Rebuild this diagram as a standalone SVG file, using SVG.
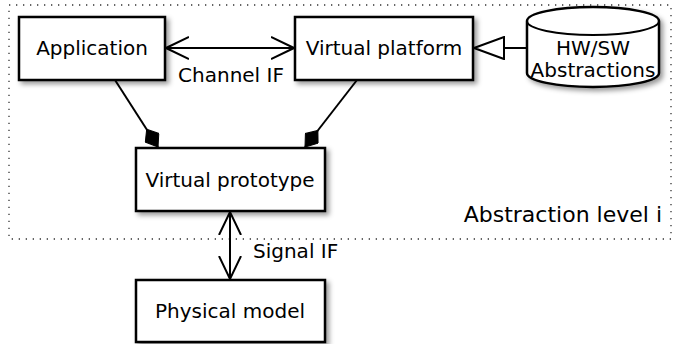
<svg xmlns="http://www.w3.org/2000/svg" width="677" height="344" viewBox="0 0 677 344">
<style>
  .box { fill: #fff; stroke: #000; stroke-width: 2.5; }
  .lbl { font-family: "DejaVu Sans", sans-serif; font-size: 20px; fill: #000; }
  .c { text-anchor: middle; }
  .ln { stroke: #000; stroke-width: 2; fill: none; }
</style>
<defs>
  <filter id="sh" x="-10%" y="-10%" width="130%" height="140%">
    <feDropShadow dx="3" dy="3" stdDeviation="2.5" flood-color="#000" flood-opacity="0.4"/>
  </filter>
  <marker id="open" viewBox="0 0 24 24" refX="23" refY="12" markerWidth="24" markerHeight="24" markerUnits="userSpaceOnUse" orient="auto-start-reverse">
    <path d="M0,1 L23,12 L0,23" fill="none" stroke="#000" stroke-width="2"/>
  </marker>
  <marker id="dia" viewBox="0 0 22 17" refX="21.5" refY="8.5" markerWidth="22" markerHeight="17" markerUnits="userSpaceOnUse" orient="auto">
    <path d="M0.5,8.5 L10.5,0.5 L21.5,8.5 L10.5,16.5 Z" fill="#000" stroke="#000" stroke-width="1"/>
  </marker>
  <marker id="tri" viewBox="0 0 32 24" refX="31" refY="12" markerWidth="32" markerHeight="24" markerUnits="userSpaceOnUse" orient="auto">
    <path d="M1,1 L31,12 L1,23 Z" fill="#fff" stroke="#000" stroke-width="2"/>
  </marker>
</defs>

<rect x="9" y="5" width="662" height="234" fill="none" stroke="#333" stroke-width="1.3" stroke-dasharray="1.3 5.7"/>
<text class="lbl" x="662" y="222" text-anchor="end" style="font-size:22px">Abstraction level i</text>

<g id="connectors">
  <line class="ln" x1="166" y1="48" x2="294" y2="48" marker-start="url(#open)" marker-end="url(#open)"/>
  <text class="lbl c" x="231" y="82">Channel IF</text>
  <line class="ln" x1="527" y1="48" x2="474" y2="48" marker-end="url(#tri)"/>
  <line class="ln" x1="115" y1="80" x2="158" y2="147" marker-end="url(#dia)"/>
  <line class="ln" x1="357" y1="80" x2="305" y2="147" marker-end="url(#dia)"/>
  <line class="ln" x1="230" y1="212" x2="230" y2="279" marker-start="url(#open)" marker-end="url(#open)"/>
  <text class="lbl" x="253" y="258">Signal IF</text>
</g>

<g id="application">
  <rect class="box" filter="url(#sh)" x="19" y="17" width="146" height="63"/>
  <text class="lbl c" x="92" y="55">Application</text>
</g>
<g id="virtual-platform">
  <rect class="box" filter="url(#sh)" x="295" y="17" width="178" height="63"/>
  <text class="lbl c" x="384" y="55">Virtual platform</text>
</g>
<g id="hwsw">
  <path class="box" filter="url(#sh)" d="M527,21 A66,14 0 0 1 659,21 L659,73 A66,14 0 0 1 527,73 Z"/>
  <path class="ln" d="M527,21 A66,14 0 0 0 659,21"/>
  <text class="lbl c" x="593" y="55">HW/SW</text>
  <text class="lbl c" x="593" y="77">Abstractions</text>
</g>
<g id="virtual-prototype">
  <rect class="box" filter="url(#sh)" x="136" y="148" width="189" height="63"/>
  <text class="lbl c" x="230" y="187">Virtual prototype</text>
</g>
<g id="physical-model">
  <rect class="box" filter="url(#sh)" x="136" y="280" width="189" height="62"/>
  <text class="lbl c" x="230" y="318">Physical model</text>
</g>
</svg>
